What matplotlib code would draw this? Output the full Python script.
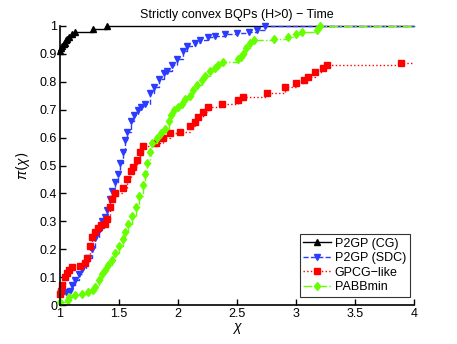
import matplotlib
matplotlib.use("Agg")
import matplotlib.pyplot as plt

plt.rcParams["font.family"] = ["Liberation Sans", "DejaVu Sans"]
plt.rcParams["mathtext.fontset"] = "custom"
plt.rcParams["mathtext.it"] = "Liberation Sans:italic"

# performance profile data (chi, pi(chi)); last point only extends the line to chi=4
cg_x = [1.0, 1.01, 1.02, 1.03, 1.04, 1.05, 1.06, 1.08, 1.10, 1.13, 1.28, 1.40, 4.0]
cg_y = [0.91, 0.92, 0.93, 0.935, 0.94, 0.95, 0.955, 0.96, 0.97, 0.98, 0.99, 1.0, 1.0]

sdc_x = [1.0, 1.02, 1.05, 1.085, 1.10, 1.13, 1.16, 1.19, 1.22, 1.24, 1.27, 1.30, 1.33,
         1.36, 1.38, 1.40, 1.42, 1.44, 1.47, 1.49, 1.51, 1.53, 1.55, 1.57, 1.60, 1.63,
         1.66, 1.69, 1.72, 1.76, 1.80, 1.84, 1.88, 1.91, 1.95, 1.99, 2.04, 2.08, 2.14,
         2.19, 2.25, 2.31, 2.40, 2.50, 2.60, 2.67, 2.74, 4.0]
sdc_y = [0.04, 0.045, 0.047, 0.05, 0.07, 0.09, 0.11, 0.13, 0.15, 0.17, 0.20, 0.24, 0.27,
         0.30, 0.315, 0.34, 0.38, 0.41, 0.44, 0.47, 0.51, 0.55, 0.59, 0.62, 0.66, 0.68,
         0.70, 0.71, 0.72, 0.76, 0.78, 0.81, 0.83, 0.84, 0.86, 0.88, 0.91, 0.93, 0.94,
         0.95, 0.96, 0.965, 0.97, 0.975, 0.98, 0.985, 1.0, 1.0]

gpcg_x = [1.0, 1.01, 1.02, 1.04, 1.06, 1.08, 1.10, 1.17, 1.21, 1.23, 1.25, 1.27, 1.30,
          1.32, 1.35, 1.38, 1.40, 1.42, 1.44, 1.47, 1.53, 1.57, 1.60, 1.62, 1.65, 1.68,
          1.70, 1.81, 1.87, 1.93, 2.02, 2.10, 2.14, 2.17, 2.21, 2.25, 2.37, 2.51, 2.55,
          2.75, 2.91, 3.0, 3.07, 3.10, 3.16, 3.23, 3.26, 3.89, 4.0]
gpcg_y = [0.04, 0.05, 0.07, 0.10, 0.115, 0.125, 0.135, 0.14, 0.15, 0.17, 0.21, 0.245, 0.26,
          0.275, 0.285, 0.29, 0.31, 0.35, 0.38, 0.40, 0.42, 0.45, 0.48, 0.495, 0.52, 0.55,
          0.57, 0.58, 0.60, 0.615, 0.62, 0.64, 0.655, 0.675, 0.69, 0.71, 0.72, 0.735, 0.745,
          0.76, 0.78, 0.795, 0.806, 0.817, 0.835, 0.85, 0.86, 0.867, 0.867]

pabb_x = [1.0, 1.07, 1.08, 1.13, 1.19, 1.24, 1.28, 1.30, 1.33, 1.36, 1.38, 1.41, 1.44,
          1.47, 1.50, 1.53, 1.55, 1.58, 1.61, 1.64, 1.67, 1.70, 1.72, 1.74, 1.76, 1.78,
          1.82, 1.86, 1.89, 1.92, 1.94, 1.97, 2.00, 2.03, 2.06, 2.10, 2.13, 2.16, 2.20,
          2.23, 2.27, 2.31, 2.34, 2.38, 2.51, 2.53, 2.55, 2.58, 2.61, 2.64, 2.81, 2.93,
          3.0, 3.05, 3.18, 3.2, 4.0]
pabb_y = [0.01, 0.018, 0.03, 0.036, 0.04, 0.047, 0.055, 0.065, 0.09, 0.11, 0.125, 0.145,
          0.16, 0.185, 0.21, 0.235, 0.26, 0.29, 0.32, 0.35, 0.39, 0.43, 0.47, 0.51, 0.55,
          0.58, 0.60, 0.615, 0.63, 0.66, 0.68, 0.70, 0.71, 0.72, 0.74, 0.75, 0.77, 0.79,
          0.805, 0.82, 0.84, 0.85, 0.86, 0.87, 0.88, 0.89, 0.90, 0.92, 0.94, 0.95, 0.955,
          0.96, 0.97, 0.98, 0.985, 1.0, 1.0]

labels = ["P2GP (CG)", "P2GP (SDC)", "GPCG\u2212like", "PABBmin"]
x_ticks = [1, 1.5, 2, 2.5, 3, 3.5, 4]
y_ticks = [0, 0.1, 0.2, 0.3, 0.4, 0.5, 0.6, 0.7, 0.8, 0.9, 1]


def main() -> None:
    fig = plt.figure(figsize=(4.57, 3.44), dpi=100)
    ax = fig.add_axes([60 / 457, 39 / 344, 354 / 457, 279 / 344])

    series = [
        (cg_x, cg_y, "black", "-", "^", 5),
        (sdc_x, sdc_y, "#2b3cff", "--", "v", 5),
        (gpcg_x, gpcg_y, "red", ":", "s", 4.5),
        (pabb_x, pabb_y, "#66ff00", "-.", "d", 4.5),
    ]
    for (x, y, color, ls, mk, ms), lab in zip(series, labels):
        ax.plot(x, y, color=color, linestyle=ls, linewidth=1.0, drawstyle="steps-post",
                marker=mk, markersize=ms, markevery=slice(0, len(x) - 1),
                markeredgecolor=color, markerfacecolor=color, label=lab, clip_on=False)

    ax.set_xlim(1, 4)
    ax.set_ylim(0, 1)
    ax.set_xticks(x_ticks)
    ax.set_xticklabels([f"{v:g}" for v in x_ticks])
    ax.set_yticks(y_ticks)
    ax.set_yticklabels([f"{v:g}" for v in y_ticks])
    ax.spines["top"].set_visible(False)
    ax.spines["right"].set_visible(False)
    ax.spines["left"].set_linewidth(1.2)
    ax.spines["bottom"].set_linewidth(1.2)
    ax.tick_params(direction="in", length=4, width=1, labelsize=9, pad=2)

    ax.set_title("Strictly convex BQPs (H>0) \u2212 Time", fontsize=9, pad=6)
    ax.set_xlabel(r"$\chi$", fontsize=10, labelpad=1)
    ax.set_ylabel(r"$\pi(\chi)$", fontsize=10, labelpad=6)

    leg = ax.legend(loc="lower right", bbox_to_anchor=(0.995, 0.02), fontsize=9,
                    frameon=True, fancybox=False, handlelength=2.2, borderpad=0.3,
                    labelspacing=0.2, handletextpad=0.3, borderaxespad=0.2)
    leg.get_frame().set_edgecolor("black")
    leg.get_frame().set_linewidth(0.8)

    fig.savefig("out.png", dpi=100)


if __name__ == "__main__":
    main()
